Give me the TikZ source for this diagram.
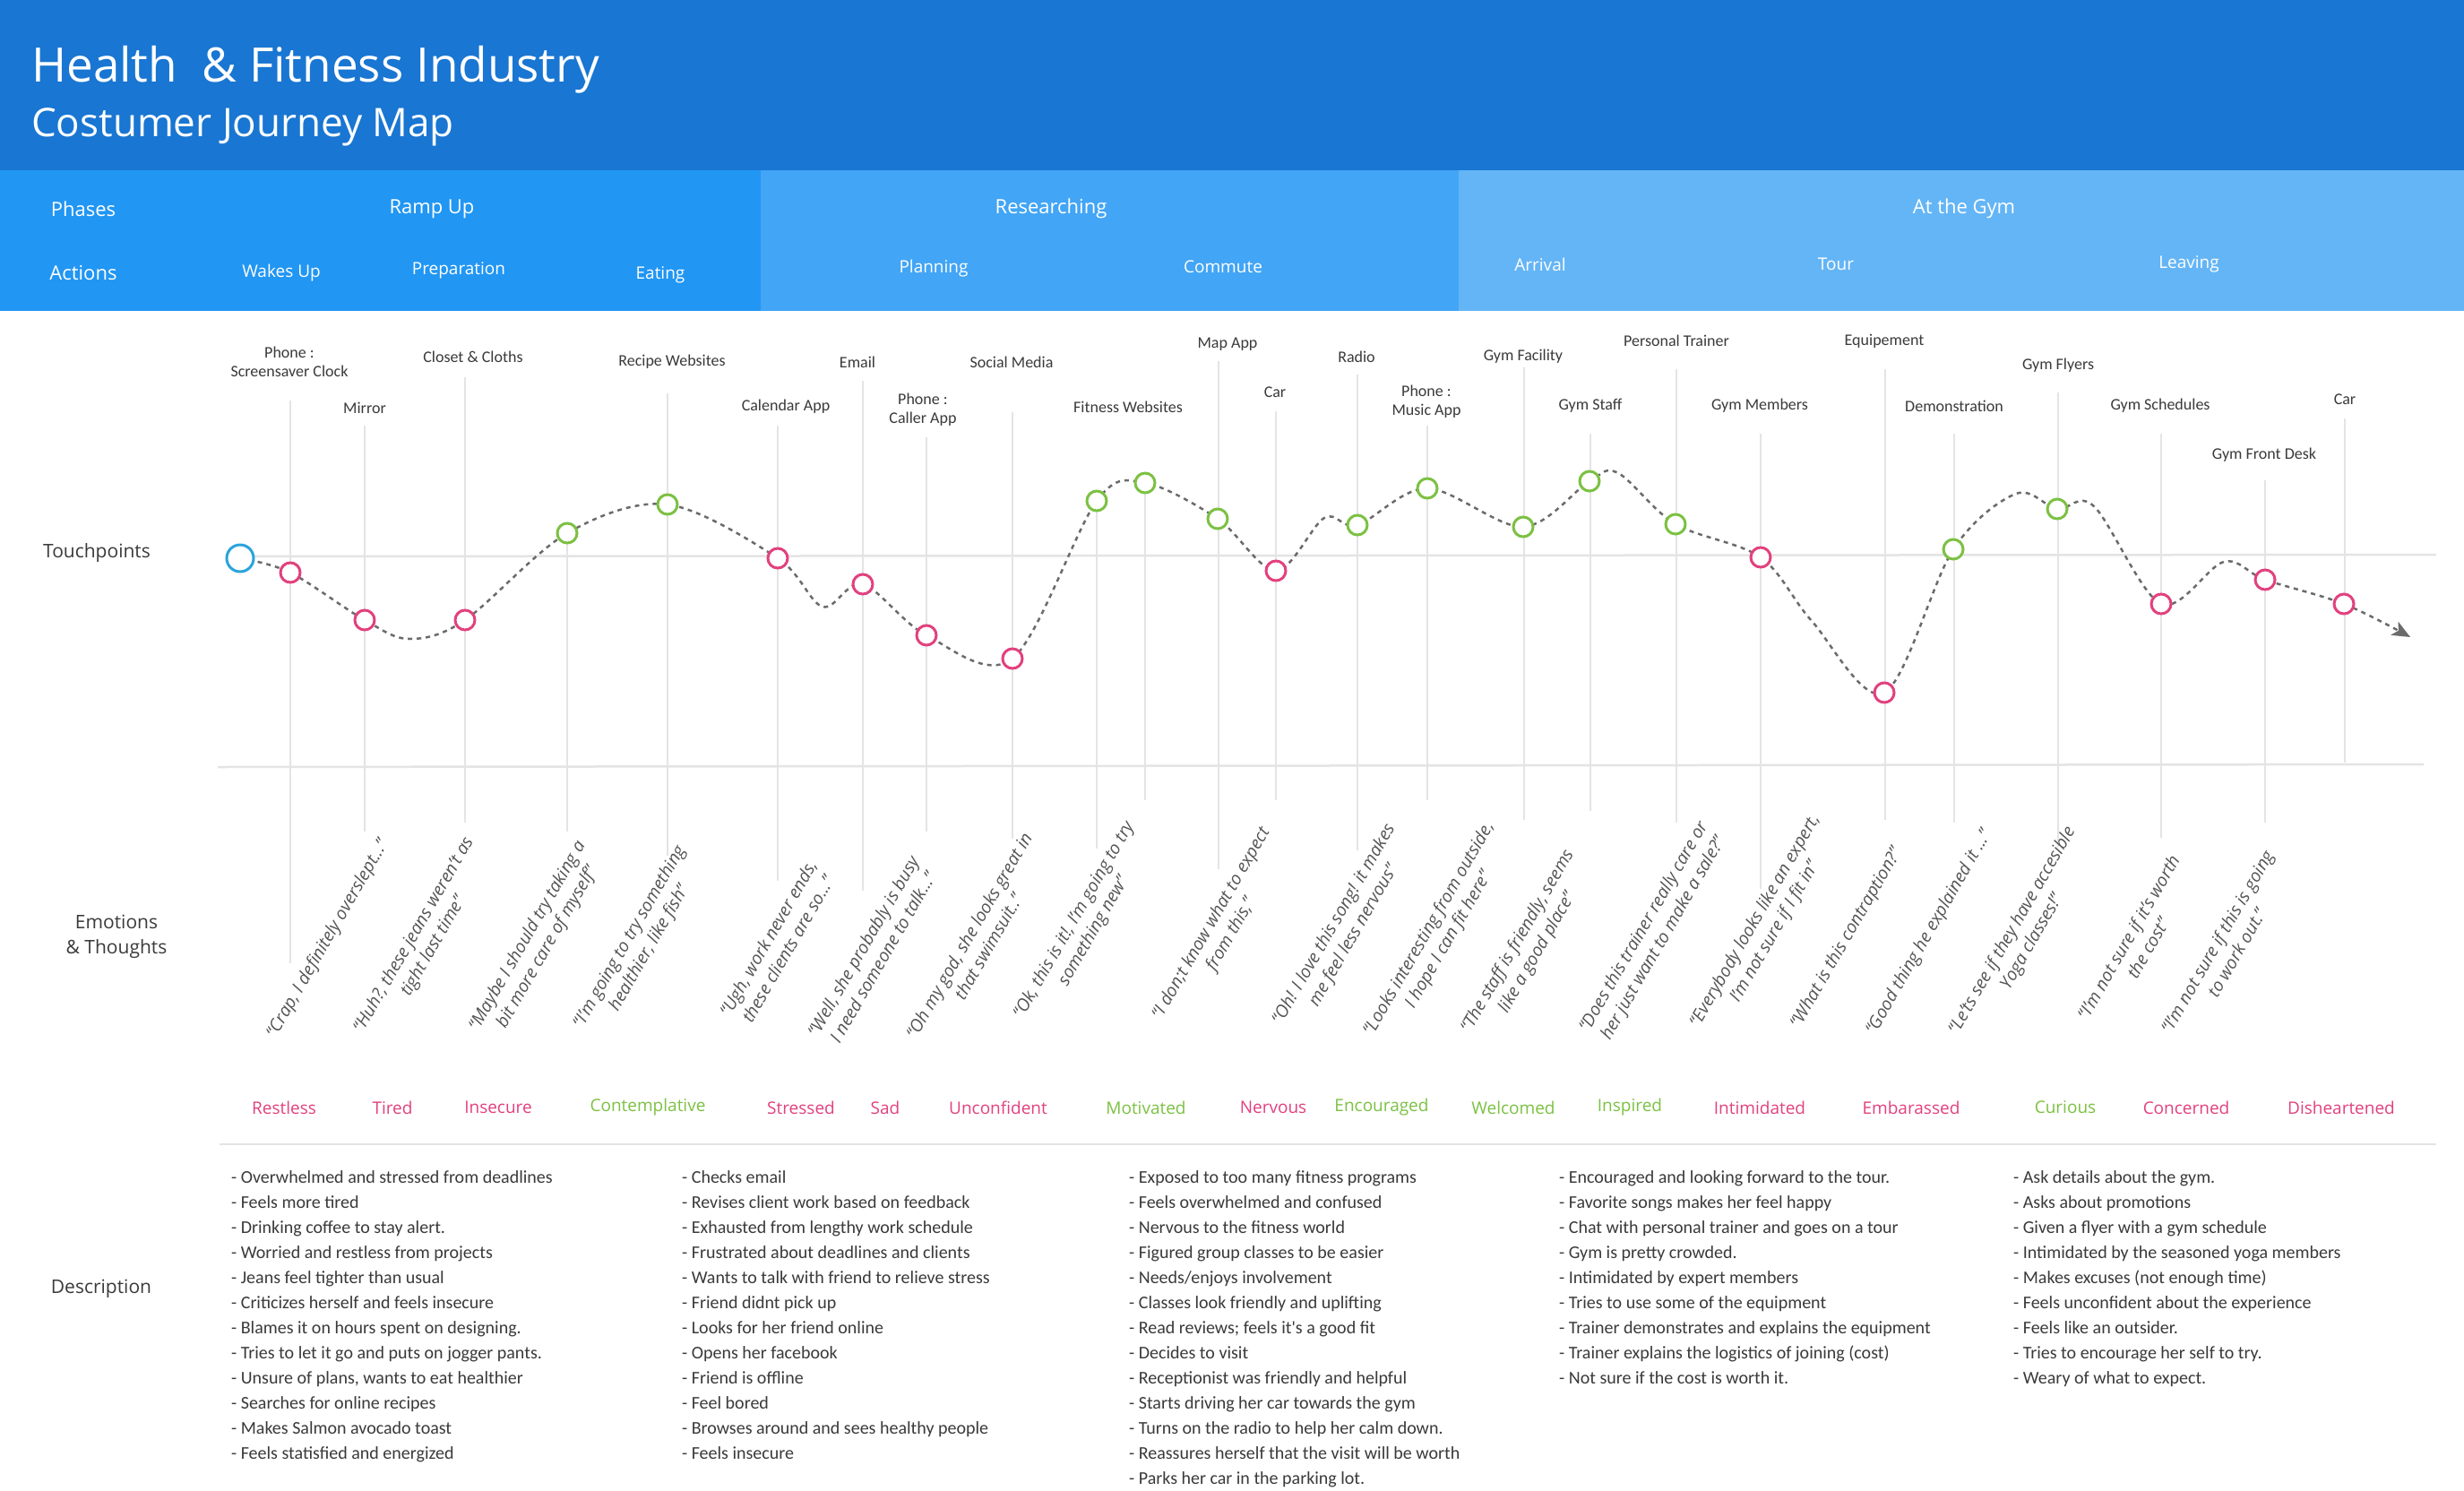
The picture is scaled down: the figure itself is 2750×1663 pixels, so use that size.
\documentclass[tikz,border=0pt]{standalone}
\usepackage{fontspec}
\setmainfont{Open Sans}
\newfontfamily\condf{Carlito}
\usetikzlibrary{arrows.meta}
\definecolor{topblue}{HTML}{1976D2}
\definecolor{phA}{HTML}{2196F3}
\definecolor{phB}{HTML}{42A5F5}
\definecolor{phC}{HTML}{64B5F6}
\definecolor{pinkc}{HTML}{E2417E}
\definecolor{greenc}{HTML}{7CC143}
\definecolor{bluec}{HTML}{2AA3DC}
\definecolor{gridc}{HTML}{E4E4E4}
\definecolor{txt}{HTML}{3A3A3A}
\definecolor{qtxt}{HTML}{555555}
\definecolor{curvec}{HTML}{6B6B6B}
\begin{document}
\begin{tikzpicture}[x=1pt,y=-1pt,
  titlea/.style={anchor=base west,text=white,inner sep=0,font=\fontsize{53}{58}\selectfont},
  titleb/.style={anchor=base west,text=white,inner sep=0,font=\fontsize{44}{48}\selectfont},
  phase/.style={text=white,inner sep=0,font=\fontsize{22}{26}\selectfont},
  action/.style={text=white,inner sep=0,font=\fontsize{19}{23}\selectfont},
  rowlab/.style={text=txt,inner sep=0,align=center,font=\fontsize{21}{28}\selectfont},
  tp/.style={text=txt,inner sep=0,align=center,font=\condf\fontsize{18}{21}\selectfont},
  vline/.style={draw=gridc,line width=2},
  hline/.style={draw=gridc,line width=2.5},
  quote/.style={text=qtxt,inner sep=0,align=center,rotate=60,font=\itshape\fontsize{19.5}{25}\selectfont},
  emo/.style={inner sep=0,font=\fontsize{19}{23}\selectfont},
  desc/.style={anchor=base west,inner sep=0,text=txt,font=\condf\fontsize{20}{28}\selectfont},
  pk/.style={circle,draw=pinkc,line width=3,fill=white,minimum size=22,inner sep=0},
  gr/.style={circle,draw=greenc,line width=3,fill=white,minimum size=22,inner sep=0},
  bl/.style={circle,draw=bluec,line width=3,fill=white,minimum size=30,inner sep=0},
  curve/.style={draw=curvec,line width=2.5,dash pattern=on 5 off 5}
]
\useasboundingbox (0,0) rectangle (2750,1663);
\fill[white] (0,0) rectangle (2750,1663);
% header
\fill[topblue] (0,0) rectangle (2750,190);
\fill[phA] (0,190) rectangle (849,347);
\fill[phB] (849,190) rectangle (1628,347);
\fill[phC] (1628,190) rectangle (2750,347);
\node[titlea] (t1) at (35,91) {Health \ \& Fitness Industry};
\node[titleb] (t2) at (35,152) {Costumer Journey Map};
\node[phase] (ph0) at (93,233) {Phases};
\node[phase] (ph1) at (482,233) {Ramp Up};
\node[phase] (ph2) at (1173,233) {Researching};
\node[phase] (ph3) at (2192,233) {At the Gym};
\node[phase] (ac0) at (93,305) {Actions};
\node[action] (ac1) at (314,305) {Wakes Up};
\node[action] (ac2) at (512,302) {Preparation};
\node[action] (ac3) at (737,307) {Eating};
\node[action] (ac4) at (1042,300) {Planning};
\node[action] (ac5) at (1365,298) {Commute};
\node[action] (ac6) at (1719,295) {Arrival};
\node[action] (ac7) at (2049,295) {Tour};
\node[action] (ac8) at (2443,295) {Leaving};
% row labels
\node[rowlab] (r1) at (108,617) {Touchpoints};
\node[rowlab] (r2) at (130,1045) {Emotions\\\& Thoughts};
\node[rowlab] (r3) at (113,1438) {Description};
% vertical lines
\foreach \x/\a/\b in {324/447/1075,407/475/928,519/421/918,633/595/928,745/439/955,868/475/983,
  963/425/994,1034/488/928,1130/460/936,1224/559/947,1278/539/893,1360/403/970,1424/459/893,
  1515/418/949,1593/475/893,1701/410/915,1775/484/905,1871/412/918,1965/484/992,2104/412/915,
  2181/484/918,2297/438/945,2412/484/935,2528/536/918,2617/467/851}
  \draw[vline] (\x,\a) -- (\x,\b);
% horizontal lines
\draw[hline] (268,621) -- (2719,619);
\draw[hline] (243,856) -- (2705,853);
\draw[hline] (245,1277) -- (2719,1277);
% touchpoint labels
\node[tp] (tp1) at (323,404) {Phone :\\Screensaver Clock};
\node[tp] (tp2) at (407,455) {Mirror};
\node[tp] (tp3) at (528,398) {Closet \& Cloths};
\node[tp] (tp4) at (750,404) {Recipe Websites};
\node[tp] (tp5) at (877,454) {Calendar App};
\node[tp] (tp6) at (957,404) {Email};
\node[tp] (tp7) at (1030,457) {Phone :\\Caller App};
\node[tp] (tp8) at (1129,404) {Social Media};
\node[tp] (tp9) at (1259,454) {Fitness Websites};
\node[tp] (tp10) at (1370,384) {Map App};
\node[tp] (tp11) at (1423,438) {Car};
\node[tp] (tp12) at (1514,398) {Radio};
\node[tp] (tp13) at (1592,448) {Phone :\\Music App};
\node[tp] (tp14) at (1700,398) {Gym Facility};
\node[tp] (tp15) at (1775,453) {Gym Staff};
\node[tp] (tp16) at (1871,380) {Personal Trainer};
\node[tp] (tp17) at (1964,453) {Gym Members};
\node[tp] (tp18) at (2103,381) {Equipement};
\node[tp] (tp19) at (2181,453) {Demonstration};
\node[tp] (tp20) at (2297,408) {Gym Flyers};
\node[tp] (tp21) at (2411,453) {Gym Schedules};
\node[tp] (tp22) at (2527,508) {Gym Front Desk};
\node[tp] (tp23) at (2617,446) {Car};
% curve coordinates
\coordinate (c0) at (268,623);
\coordinate (c1) at (324,639);
\coordinate (c2) at (407,692);
\coordinate (w1) at (457,713);
\coordinate (c3) at (519,692);
\coordinate (c4) at (633,595);
\coordinate (c5) at (745,563);
\coordinate (c6) at (868,623);
\coordinate (w2) at (918,677);
\coordinate (c7) at (963,652);
\coordinate (c8) at (1034,709);
\coordinate (c9) at (1130,735);
\coordinate (c10) at (1224,559);
\coordinate (c11) at (1278,539);
\coordinate (c12) at (1359,579);
\coordinate (c13) at (1424,637);
\coordinate (w3) at (1478,578);
\coordinate (c14) at (1515,586);
\coordinate (c15) at (1593,545);
\coordinate (c16) at (1700,588);
\coordinate (c17) at (1774,537);
\coordinate (w4) at (1806,528);
\coordinate (c18) at (1870,585);
\coordinate (c19) at (1965,622);
\coordinate (w5) at (2022,693);
\coordinate (c20) at (2103,773);
\coordinate (c21) at (2180,613);
\coordinate (w6) at (2250,551);
\coordinate (c22) at (2296,568);
\coordinate (w7) at (2337,565);
\coordinate (c23) at (2412,674);
\coordinate (w8) at (2482,627);
\coordinate (c24) at (2528,647);
\coordinate (c25) at (2616,674);
\coordinate (cend) at (2690,711);
\draw[curve,-{Stealth[length=20,width=17,inset=5]}] plot[smooth,tension=0.55] coordinates {(c0) (c1) (c2) (w1) (c3) (c4) (c5) (c6) (w2) (c7) (c8) (c9) (c10) (c11) (c12) (c13) (w3) (c14) (c15) (c16) (c17) (w4) (c18) (c19) (w5) (c20) (c21) (w6) (c22) (w7) (c23) (w8) (c24) (c25) (cend)};
% circles
\node[bl] (n0) at (c0) {};
\foreach \n in {c1,c2,c3,c6,c7,c8,c9,c13,c19,c20,c23,c24,c25} \node[pk] (n\n) at (\n) {};
\foreach \n in {c4,c5,c10,c11,c12,c14,c15,c16,c17,c18,c21,c22} \node[gr] (n\n) at (\n) {};
% quotes
\node[quote] (q1) at (366,1048) {“Crap, I definitely overslept...”};
\node[quote] (q2) at (473,1050) {“Huh?, these jeans weren’t as\\tight last time”};
\node[quote] (q3) at (600,1051) {“Maybe I should try taking a\\bit more care of myself”};
\node[quote] (q4) at (714,1052) {“I’m going to try something\\healthier, like fish”};
\node[quote] (q5) at (868,1053) {“Ugh, work never ends,\\these clients are so...”};
\node[quote] (q6) at (974,1062) {“Well, she probably is busy\\I need someone to talk...”};
\node[quote] (q7) at (1092,1050) {“Oh my god, she looks great in\\that swimsuit..”};
\node[quote] (q8) at (1210,1033) {“Ok, this is it!, I’m going to try\\something new”};
\node[quote] (q9) at (1363,1037) {“I don;t know what to expect\\from this,”};
\node[quote] (q10) at (1500,1038) {“Oh! I love this song! it makes\\me feel less nervous”};
\node[quote] (q11) at (1606,1043) {“Looks interesting from outside,\\I hope I can fit here”};
\node[quote] (q12) at (1705,1057) {“The staff is friendly, seems\\like a good place”};
\node[quote] (q13) at (1846,1041) {“Does this trainer really care or\\her just want to make a sale?”};
\node[quote] (q14) at (1970,1034) {“Everybody looks like an expert,\\I’m not sure if I fit in”};
\node[quote] (q15) at (2061,1047) {“What is this contraption?”};
\node[quote] (q16) at (2153,1041) {“Good thing he explained it ...”};
\node[quote] (q17) at (2257,1045) {“Le’ts see if they have accesible\\Yoga classes!”};
\node[quote] (q18) at (2386,1052) {“I’m not sure if it’s worth\\the cost”};
\node[quote] (q19) at (2485,1057) {“I’m not sure if this is going\\to work out.”};
% emotions
\foreach \x/\t/\c [count=\i] in {317/Restless/pinkc,438/Tired/pinkc,556/Insecure/pinkc,723/Contemplative/greenc,
  894/Stressed/pinkc,988/Sad/pinkc,1114/Unconfident/pinkc,1279/Motivated/greenc,1421/Nervous/pinkc,
  1542/Encouraged/greenc,1689/Welcomed/greenc,1819/Inspired/greenc,1964/Intimidated/pinkc,
  2133/Embarassed/pinkc,2305/Curious/greenc,2440/Concerned/pinkc,2613/Disheartened/pinkc}
  \node[emo,text=\c] (e\i) at (\x,1236) {\t};
% descriptions
\foreach \t [count=\i] in {{- Overwhelmed and stressed from deadlines},{- Feels more tired},{- Drinking coffee to stay alert.},
  {- Worried and restless from projects},{- Jeans feel tighter than usual},{- Criticizes herself and feels insecure},
  {- Blames it on hours spent on designing.},{- Tries to let it go and puts on jogger pants.},
  {- Unsure of plans, wants to eat healthier},{- Searches for online recipes},{- Makes Salmon avocado toast},
  {- Feels statisfied and energized}}
  \node[desc] (da\i) at (258,{1320+28*(\i-1)}) {\t};
\foreach \t [count=\i] in {{- Checks email},{- Revises client work based on feedback},{- Exhausted from lengthy work schedule},
  {- Frustrated about deadlines and clients},{- Wants to talk with friend to relieve stress},{- Friend didnt pick up},
  {- Looks for her friend online},{- Opens her facebook},{- Friend is offline},{- Feel bored},
  {- Browses around and sees healthy people},{- Feels insecure}}
  \node[desc] (db\i) at (761,{1320+28*(\i-1)}) {\t};
\foreach \t [count=\i] in {{- Exposed to too many fitness programs},{- Feels overwhelmed and confused},{- Nervous to the fitness world},
  {- Figured group classes to be easier},{- Needs/enjoys involvement},{- Classes look friendly and uplifting},
  {- Read reviews; feels it's a good fit},{- Decides to visit},{- Receptionist was friendly and helpful},
  {- Starts driving her car towards the gym},{- Turns on the radio to help her calm down.},
  {- Reassures herself that the visit will be worth},{- Parks her car in the parking lot.}}
  \node[desc] (dc\i) at (1260,{1320+28*(\i-1)}) {\t};
\foreach \t [count=\i] in {{- Encouraged and looking forward to the tour.},{- Favorite songs makes her feel happy},
  {- Chat with personal trainer and goes on a tour},{- Gym is pretty crowded.},{- Intimidated by expert members},
  {- Tries to use some of the equipment},{- Trainer demonstrates and explains the equipment},
  {- Trainer explains the logistics of joining (cost)},{- Not sure if the cost is worth it.}}
  \node[desc] (dd\i) at (1740,{1320+28*(\i-1)}) {\t};
\foreach \t [count=\i] in {{- Ask details about the gym.},{- Asks about promotions},{- Given a flyer with a gym schedule},
  {- Intimidated by the seasoned yoga members},{- Makes excuses (not enough time)},
  {- Feels unconfident about the experience},{- Feels like an outsider.},{- Tries to encourage her self to try.},
  {- Weary of what to expect.}}
  \node[desc] (de\i) at (2247,{1320+28*(\i-1)}) {\t};
\end{tikzpicture}
\end{document}
